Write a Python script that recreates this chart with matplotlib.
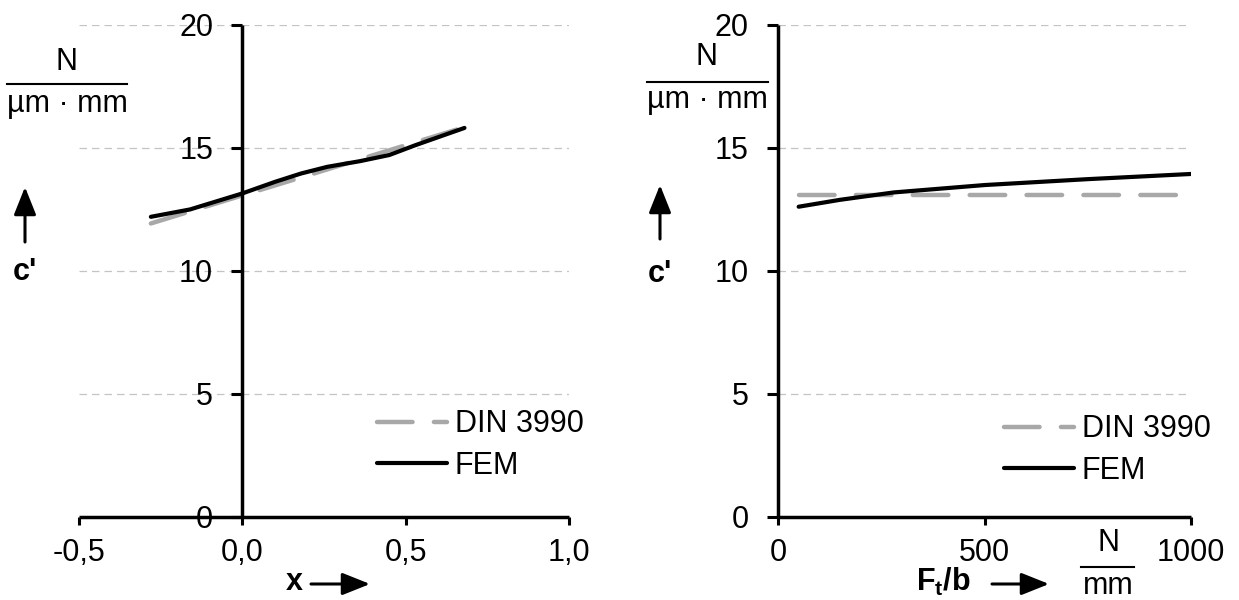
import matplotlib
matplotlib.use('Agg')
import matplotlib.pyplot as plt
from matplotlib.lines import Line2D

plt.rcParams['font.family'] = ['Liberation Sans', 'DejaVu Sans']
plt.rcParams['font.size'] = 22
plt.rcParams['mathtext.fontset'] = 'custom'
plt.rcParams['mathtext.rm'] = 'Liberation Sans'
plt.rcParams['mathtext.bf'] = 'Liberation Sans:bold'
plt.rcParams['mathtext.it'] = 'Liberation Sans:italic'

# stiffness c' over profile shift x
x_shift = [-0.28, -0.16, 0.0, 0.1, 0.18, 0.26, 0.36, 0.45, 0.53, 0.68]
fem_shift = [12.19, 12.49, 13.14, 13.61, 13.95, 14.22, 14.45, 14.70, 15.10, 15.80]
x_shift_din = [-0.28, 0.0, 0.2, 0.4, 0.68]
din_shift = [11.92, 13.06, 13.87, 14.69, 15.83]

# stiffness c' over line load Ft/b
x_load = [50, 150, 280, 500, 750, 1000]
fem_load = [12.60, 12.88, 13.18, 13.48, 13.72, 13.93]
x_load_din = [50, 1000]
din_load = [13.07, 13.07]

y_ticks = [0, 5, 10, 15, 20]
labels_shift = ['-0,5', '0,0', '0,5', '1,0']
labels_load = ['0', '500', '1000']

W, H = 1239, 600
fig = plt.figure(figsize=(W / 100, H / 100), dpi=100)


def fxy(x, y):
    return x / W, 1 - y / H


def setup(ax, xlim, xticks, xlabels):
    ax.set_xlim(xlim)
    ax.set_ylim(0, 20)
    ax.set_yticks(y_ticks)
    ax.set_yticklabels([str(v) for v in y_ticks])
    ax.set_xticks(xticks)
    ax.set_xticklabels(xlabels)
    ax.spines['top'].set_visible(False)
    ax.spines['right'].set_visible(False)
    for s in ['left', 'bottom']:
        ax.spines[s].set_linewidth(2.5)
        ax.spines[s].set_capstyle('butt')
    ax.tick_params(axis='y', direction='out', length=8, width=2.2, pad=13)
    ax.tick_params(axis='x', direction='out', length=6, width=2.2, pad=9)
    ax.yaxis.grid(True, color='#c4c4c4', lw=0.9, ls=(0, (6, 4)))
    ax.set_axisbelow(True)
    ax.patch.set_alpha(0)


din_style = dict(color='#a8a8a8', lw=3.2, ls=(0, (8.0, 4.8)), dash_capstyle='round')
fem_style = dict(color='black', lw=3.0, solid_capstyle='round')

ax1 = fig.add_axes([79 / W, 1 - 517 / H, (569 - 79) / W, (517 - 24.5) / H])
setup(ax1, (-0.5, 1.0), [-0.5, 0.0, 0.5, 1.0], labels_shift)
ax1.spines['left'].set_position(('data', 0))
ax1.plot(x_shift_din, din_shift, label='DIN 3990', **din_style)
ax1.plot(x_shift, fem_shift, label='FEM', **fem_style)

ax2 = fig.add_axes([778 / W, 1 - 517 / H, (1191 - 778) / W, (517 - 24.5) / H])
setup(ax2, (0, 1000), [0, 500, 1000], labels_load)
ax2.plot(x_load_din, din_load, label='DIN 3990', **din_style)
ax2.plot(x_load, fem_load, label='FEM', **fem_style)

for ax, (lx, ly) in [(ax1, (377, 445)), (ax2, (1004, 450))]:
    ax.legend(loc='center left', bbox_to_anchor=fxy(lx, ly),
              bbox_transform=fig.transFigure, frameon=False, borderpad=0,
              borderaxespad=0, handlelength=2.3, handletextpad=0.25,
              labelspacing=0.38)


def arrow(x0, y0, x1, y1):
    ax1.annotate('', xy=fxy(x1, y1), xycoords='figure fraction',
                 xytext=fxy(x0, y0), textcoords='figure fraction',
                 arrowprops=dict(arrowstyle='-|>,head_length=0.85,head_width=0.34',
                                 mutation_scale=20, lw=2.2, color='black',
                                 shrinkA=0, shrinkB=0),
                 annotation_clip=False)


def fraction(xc, y_num, y_bar, y_den, x0, x1, num, den):
    fig.text(*fxy(xc, y_num), num, ha='center', va='center')
    fig.add_artist(Line2D([x0 / W, x1 / W], [1 - y_bar / H] * 2,
                          transform=fig.transFigure, color='black', lw=1.5))
    fig.text(*fxy(xc, y_den), den, ha='center', va='center')


# y axis labels
fraction(67, 62, 84, 104, 7, 127, 'N', 'µm · mm')
arrow(25, 242, 25, 187)
fig.text(*fxy(25, 272), "c'", ha='center', va='center', fontweight='bold')

fraction(707, 57, 82, 100, 647, 768, 'N', 'µm · mm')
arrow(660, 239, 660, 185)
fig.text(*fxy(660, 274), "c'", ha='center', va='center', fontweight='bold')

# x axis labels
fig.text(*fxy(294, 582), 'x', ha='center', va='center', fontweight='bold')
arrow(311, 584, 370, 584)

fig.text(*fxy(943, 582), r'$\mathbf{F_t/b}$', ha='center', va='center')
arrow(992, 584, 1049, 584)
fraction(1108, 543, 567, 586, 1081, 1134, 'N', 'mm')

fig.savefig('out.png', dpi=100)
